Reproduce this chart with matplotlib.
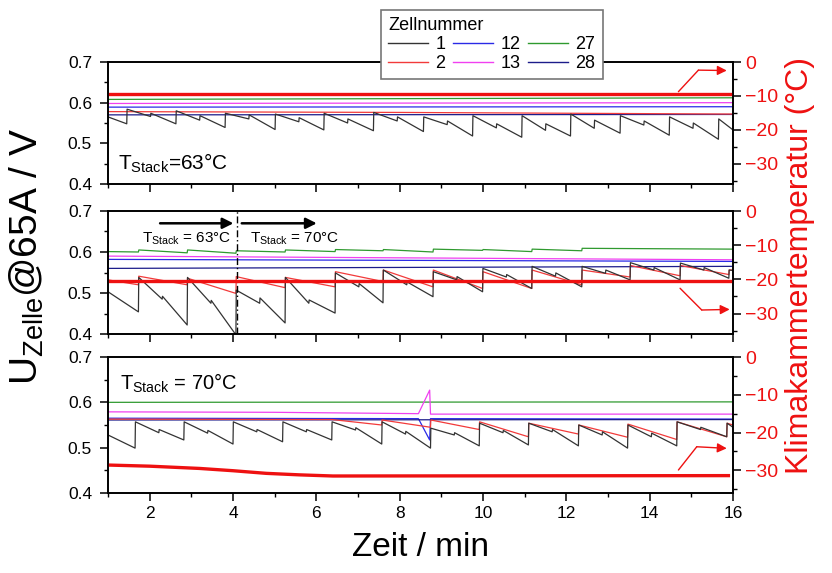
import matplotlib
matplotlib.use("Agg")
import matplotlib.pyplot as plt
from matplotlib.lines import Line2D
from matplotlib.ticker import MultipleLocator, FixedLocator

plt.rcParams["font.family"] = ["Liberation Sans", "DejaVu Sans"]
plt.rcParams["mathtext.fontset"] = "custom"
plt.rcParams["mathtext.rm"] = "Liberation Sans"
plt.rcParams["mathtext.it"] = "Liberation Sans:italic"
plt.rcParams["mathtext.default"] = "regular"

# ---------------------------------------------------------------- data
cells = ["1", "2", "12", "13", "27", "28"]
cell_colors = {"1": "#333333", "2": "#f23a3a", "12": "#2a2ae6",
               "13": "#f040f0", "27": "#2f9a2f", "28": "#1c1c8a"}
temp_color = "#ee1111"

# Panel 1 (T_Stack = 63 °C): cell 1 sawtooth
p1_jumps = [1.45, 2.63, 3.81, 5.01, 6.18, 7.37, 8.57, 9.75, 10.93, 12.10, 13.29, 14.47, 15.65]
p1_before = [0.548, 0.548, 0.539, 0.534, 0.533, 0.531, 0.529, 0.518, 0.515, 0.518, 0.525, 0.520, 0.510]
p1_after = [0.584, 0.580, 0.574, 0.572, 0.574, 0.576, 0.565, 0.568, 0.568, 0.572, 0.568, 0.565, 0.560]
p1_mid_pre = [0.566, 0.557, 0.560, 0.553, 0.550, 0.555, 0.546, 0.538, 0.532, 0.537, 0.545, 0.537, None]
p1_mid_post = [0.574, 0.568, 0.570, 0.563, 0.560, 0.565, 0.555, 0.548, 0.548, 0.557, 0.555, 0.550, None]
p1_start = (1.0, 0.565)
p1_stop = (16.0, 0.533)
p1_cell2 = ([1.0, 8.0, 16.0], [0.578, 0.576, 0.572])
p1_cell12 = ([1.0, 16.0], [0.589, 0.590])
p1_cell13 = ([1.0, 16.0], [0.598, 0.600])
p1_cell27 = ([1.0, 16.0], [0.608, 0.612])
p1_cell28 = ([1.0, 16.0], [0.570, 0.571])
p1_temp = ([1.0, 16.0], [-9.5, -9.5])

# Panel 2 (63 °C -> 70 °C): cells 1 and 2 sawtooth
p2_jumps = [1.73, 2.90, 4.07, 5.25, 6.45, 7.60, 8.80, 9.99, 11.17, 12.37, 13.53, 14.73, 15.90]
p2_before = [0.454, 0.422, 0.398, 0.427, 0.451, 0.476, 0.491, 0.503, 0.511, 0.515, 0.532, 0.532, 0.536]
p2_after = [0.538, 0.538, 0.507, 0.538, 0.549, 0.556, 0.552, 0.560, 0.565, 0.565, 0.574, 0.573, 0.556]
p2_mid_pre = [0.485, 0.475, 0.475, 0.475, 0.515, 0.520, 0.532, 0.539, 0.541, 0.548, 0.556, 0.556, None]
p2_mid_post = [0.492, 0.482, 0.488, 0.483, 0.523, 0.527, 0.540, 0.545, 0.549, 0.556, 0.562, 0.562, None]
p2_start = (1.0, 0.503)
p2_stop = (16.0, 0.555)
p2_c2_before = [0.520, 0.520, 0.499, 0.513, 0.515, 0.528, 0.515, 0.511, 0.511, 0.520, 0.539, 0.542, 0.545]
p2_c2_after = [0.541, 0.536, 0.540, 0.538, 0.552, 0.556, 0.556, 0.552, 0.556, 0.556, 0.567, 0.567, 0.556]
p2_c2_start = (1.0, 0.532)
p2_c2_stop = (16.0, 0.556)
p2_cell12 = ([1.0, 16.0], [0.582, 0.577])
p2_cell13 = ([1.0, 16.0], [0.590, 0.581])
p2_cell27 = ([1.0, 1.73, 1.74, 2.90, 2.91, 4.07, 4.08, 5.25, 5.26, 6.45, 6.46, 7.60, 7.61,
              8.80, 8.81, 9.99, 10.0, 11.17, 11.18, 12.37, 12.38, 16.0],
             [0.601, 0.600, 0.605, 0.598, 0.605, 0.597, 0.603, 0.600, 0.605, 0.601, 0.606,
              0.603, 0.606, 0.600, 0.607, 0.604, 0.606, 0.601, 0.607, 0.603, 0.609, 0.607])
p2_cell28 = ([1.0, 16.0], [0.560, 0.565])
p2_temp = ([1.0, 16.0], [-20.5, -20.5])

# Panel 3 (T_Stack = 70 °C)
p3_jumps = [1.65, 2.82, 4.00, 5.19, 6.37, 7.57, 8.74, 9.91, 11.09, 12.29, 13.47, 14.65, 15.85]
p3_before = [0.499, 0.517, 0.508, 0.513, 0.517, 0.508, 0.499, 0.504, 0.506, 0.504, 0.499, 0.504, 0.524]
p3_after = [0.557, 0.557, 0.557, 0.557, 0.557, 0.557, 0.543, 0.554, 0.554, 0.550, 0.550, 0.557, 0.554]
p3_mid_pre = [0.533, 0.532, 0.535, 0.535, 0.539, 0.530, 0.528, 0.533, 0.535, 0.528, 0.524, 0.540, None]
p3_mid_post = [0.540, 0.538, 0.540, 0.540, 0.544, 0.536, 0.533, 0.538, 0.540, 0.535, 0.532, 0.545, None]
p3_start = (1.0, 0.528)
p3_stop = (16.0, 0.545)
p3_c2_jumps = [6.37, 7.57, 8.74, 9.91, 11.09, 12.29, 13.47, 14.65, 15.85]
p3_c2_before = [0.562, 0.550, 0.545, 0.540, 0.524, 0.530, 0.523, 0.518, 0.524]
p3_c2_after = [0.562, 0.561, 0.561, 0.557, 0.554, 0.550, 0.552, 0.557, 0.554]
p3_c2_start = (1.0, 0.563)
p3_c2_stop = (16.0, 0.550)
p3_cell12 = ([1.0, 8.45, 8.72, 8.74, 16.0], [0.565, 0.564, 0.517, 0.564, 0.563])
p3_cell13 = ([1.0, 5.0, 8.45, 8.72, 8.74, 16.0], [0.579, 0.578, 0.575, 0.627, 0.574, 0.574])
p3_cell27 = ([1.0, 16.0], [0.600, 0.601])
p3_cell28 = ([1.0, 16.0], [0.561, 0.562])
p3_temp = ([1.0, 2.0, 3.2, 4.0, 4.8, 5.6, 6.4, 15.93],
           [-28.6, -28.9, -29.5, -30.1, -30.8, -31.2, -31.5, -31.4])


def sawtooth(start, stop, jumps, before, after, mid_pre=None, mid_post=None, mid_offset=0.57):
    t, v = [start[0]], [start[1]]
    for k, tj in enumerate(jumps):
        t += [tj, tj + 0.008]
        v += [before[k], after[k]]
        if mid_pre is not None and mid_pre[k] is not None:
            tm = tj + mid_offset
            t += [tm, tm + 0.008]
            v += [mid_pre[k], mid_post[k]]
    t.append(stop[0])
    v.append(stop[1])
    return t, v


panels = [
    dict(c1=sawtooth(p1_start, p1_stop, p1_jumps, p1_before, p1_after, p1_mid_pre, p1_mid_post),
         c2=p1_cell2, c12=p1_cell12, c13=p1_cell13, c27=p1_cell27, c28=p1_cell28, temp=p1_temp),
    dict(c1=sawtooth(p2_start, p2_stop, p2_jumps, p2_before, p2_after, p2_mid_pre, p2_mid_post),
         c2=sawtooth(p2_c2_start, p2_c2_stop, p2_jumps, p2_c2_before, p2_c2_after),
         c12=p2_cell12, c13=p2_cell13, c27=p2_cell27, c28=p2_cell28, temp=p2_temp),
    dict(c1=sawtooth(p3_start, p3_stop, p3_jumps, p3_before, p3_after, p3_mid_pre, p3_mid_post),
         c2=sawtooth(p3_c2_start, p3_c2_stop, p3_c2_jumps, p3_c2_before, p3_c2_after),
         c12=p3_cell12, c13=p3_cell13, c27=p3_cell27, c28=p3_cell28, temp=p3_temp),
]

# ---------------------------------------------------------------- figure
W_PX, H_PX = 832, 573
fig = plt.figure(figsize=(W_PX / 100, H_PX / 100), dpi=100)

left_px, right_px = 108, 733
rows_px = [(62, 184), (211, 334), (357, 493)]

axes = []
for i, (top, bot) in enumerate(rows_px):
    ax = fig.add_axes([left_px / W_PX, 1 - bot / H_PX,
                       (right_px - left_px) / W_PX, (bot - top) / H_PX])
    d = panels[i]
    draw_order = ["c27", "c13", "c12", "c28", "c2", "c1"]
    for key in draw_order:
        name = key[1:]
        t, v = d[key]
        ax.plot(t, v, color=cell_colors[name], lw=0.9)
    ax.set_xlim(1, 16)
    ax.set_ylim(0.4, 0.7)
    ax.xaxis.set_major_locator(FixedLocator([2, 4, 6, 8, 10, 12, 14, 16]))
    ax.xaxis.set_minor_locator(MultipleLocator(1))
    ax.yaxis.set_major_locator(FixedLocator([0.4, 0.5, 0.6, 0.7]))
    ax.yaxis.set_minor_locator(MultipleLocator(0.05))
    ax.set_yticklabels(["0.4", "0.5", "0.6", "0.7"])
    ax.tick_params(which="major", direction="out", length=5.5, width=1.1,
                   labelsize=12.5, right=False, top=False)
    ax.tick_params(axis="y", pad=6)
    ax.tick_params(which="minor", direction="out", length=3, width=1.0, right=False, top=False)
    if i < 2:
        ax.tick_params(labelbottom=False)
    else:
        ax.tick_params(axis="x", pad=4)
    for s in ax.spines.values():
        s.set_linewidth(1.2)

    tw = ax.twinx()
    tt, tv = d["temp"]
    tw.plot(tt, tv, color=temp_color, lw=2.4, solid_capstyle="butt")
    tw.set_ylim(-36, 0)
    tw.yaxis.set_major_locator(FixedLocator([-30, -20, -10, 0]))
    tw.yaxis.set_minor_locator(FixedLocator([-35, -25, -15, -5]))
    tw.tick_params(which="major", direction="out", length=5.5, width=1.1,
                   labelsize=14, labelcolor=temp_color)
    tw.tick_params(which="minor", direction="out", length=3, width=1.0)
    for s in tw.spines.values():
        s.set_linewidth(1.2)
    axes.append((ax, tw))

ax1, ax2, ax3 = [a[0] for a in axes]
red_arrow = dict(arrowstyle="-|>", color=temp_color, lw=1.0, mutation_scale=14)
red_line = dict(arrowstyle="-", color=temp_color, lw=1.0, shrinkA=0, shrinkB=0)

# Panel 1 annotations
ax1.text(1.24, 0.434, "T$_{Stack}$=63°C", fontsize=15, va="baseline", ha="left")
ax1.annotate("", xy=(15.17, 0.680), xytext=(14.69, 0.627), arrowprops=red_line)
ax1.annotate("", xy=(15.85, 0.679), xytext=(15.17, 0.680),
             arrowprops=dict(red_arrow, shrinkA=0, shrinkB=0))

# Panel 2 annotations
ax2.axvline(4.09, color="black", ls=(0, (5, 2, 1, 2)), lw=1.0)
black_arrow = dict(arrowstyle="-|>", color="black", lw=1.8, mutation_scale=16,
                   shrinkA=0, shrinkB=0)
ax2.annotate("", xy=(4.01, 0.670), xytext=(2.25, 0.670), arrowprops=black_arrow)
ax2.annotate("", xy=(6.01, 0.670), xytext=(4.21, 0.670), arrowprops=black_arrow)
ax2.text(1.82, 0.622, "T$_{Stack}$ = 63°C", fontsize=11, va="baseline", ha="left")
ax2.text(4.41, 0.622, "T$_{Stack}$ = 70°C", fontsize=11, va="baseline", ha="left")
ax2.annotate("", xy=(15.25, 0.4585), xytext=(14.73, 0.5115), arrowprops=red_line)
ax2.annotate("", xy=(15.92, 0.460), xytext=(15.25, 0.4585),
             arrowprops=dict(red_arrow, shrinkA=0, shrinkB=0))

# Panel 3 annotations
ax3.text(1.29, 0.627, "T$_{Stack}$ = 70°C", fontsize=14.5, va="baseline", ha="left")
ax3.annotate("", xy=(15.13, 0.502), xytext=(14.69, 0.4507), arrowprops=red_line)
ax3.annotate("", xy=(15.85, 0.4985), xytext=(15.13, 0.502),
             arrowprops=dict(red_arrow, shrinkA=0, shrinkB=0))

# Axis titles
fig.text(27 / W_PX, 1 - 256 / H_PX, "U$_{Zelle}$@65A / V", rotation=90,
         fontsize=28, ha="center", va="center")
fig.text(800 / W_PX, 1 - 266 / H_PX, "Klimakammertemperatur (°C)", rotation=90,
         fontsize=23, ha="center", va="center", color=temp_color)
fig.text(420 / W_PX, 1 - 548 / H_PX, "Zeit / min", fontsize=24, ha="center", va="center")

# Legend
handles = [Line2D([], [], color=cell_colors[c], lw=1.0) for c in cells]
leg = fig.legend(handles, cells, title="Zellnummer", ncol=3,
                 loc="upper left", bbox_to_anchor=(381 / W_PX, 1 - 10 / H_PX),
                 bbox_transform=fig.transFigure, borderaxespad=0,
                 fontsize=13, title_fontsize=13,
                 handlelength=2.2, handletextpad=0.4, columnspacing=0.45,
                 labelspacing=0.1, borderpad=0.4, frameon=True, fancybox=False,
                 framealpha=1.0, edgecolor="#777777", alignment="left")
leg.get_frame().set_linewidth(1.2)

fig.savefig("out.png", dpi=100)
